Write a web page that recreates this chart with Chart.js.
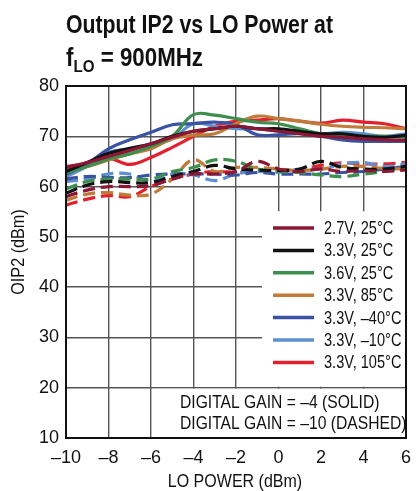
<!DOCTYPE html>
<html><head><meta charset="utf-8">
<script src="https://cdn.jsdelivr.net/npm/chart.js@4/dist/chart.umd.min.js"></script>
<style>
html,body{margin:0;padding:0;background:#fff;}
#wrap{position:relative;width:420px;height:491px;}
canvas{position:absolute;left:0;top:0;}
.t{position:absolute;left:66px;font-family:"Liberation Sans",Arial,sans-serif;font-weight:bold;font-size:25px;color:#111;line-height:1;white-space:nowrap;transform-origin:0 0;}
.t sub{font-size:17px;vertical-align:-6px;line-height:0;}
</style></head><body>
<div id="wrap">
<canvas id="c" width="420" height="491"></canvas>
<div class="t" id="t1" style="top:12px">Output IP2 vs LO Power at</div>
<div class="t" id="t2" style="top:45px">f<sub>LO</sub> = 900MHz</div>
</div>
<script>
const loPower = [-10,-9,-8,-7,-6,-5,-4,-3,-2,-1,0,1,2,3,4,5,6];
const seriesNames = ["2.7V, 25°C","3.3V, 25°C","3.6V, 25°C","3.3V, 85°C","3.3V, –40°C","3.3V, –10°C","3.3V, 105°C"];
const seriesColors = ["#8b1735","#111111","#3d8f4e","#c17b39","#3a52a2","#5d8fd1","#e3202e"];
// Digital gain = -4 (solid)
const solid27_25  = [63.8,64.8,66.0,67.2,68.5,69.8,71.0,71.5,72.0,71.5,71.0,70.5,70.0,69.8,69.5,69.3,69.2];
const solid33_25  = [63.0,64.8,66.6,67.6,68.5,70.0,71.0,71.5,72.0,71.5,71.5,71.0,70.5,70.5,70.0,69.8,70.2];
const solid36_25  = [62.8,64.0,65.5,66.5,68.0,70.0,74.3,74.2,73.5,72.8,72.5,71.5,70.5,70.2,70.0,70.0,69.8];
const solid33_85  = [63.3,64.0,65.3,66.5,67.5,69.5,70.2,70.5,72.5,74.0,73.5,73.0,72.4,72.0,71.8,71.7,71.5];
const solid33_m40 = [62.5,64.5,67.5,69.3,70.8,72.3,72.5,72.8,72.3,70.3,70.3,70.5,70.0,69.3,69.0,69.0,69.0];
const solid33_m10 = [62.0,64.0,66.8,67.5,68.3,69.5,72.5,72.0,71.5,71.5,71.0,70.8,70.5,70.8,70.5,70.0,70.5];
const solid33_105 = [64.0,64.5,65.6,64.4,65.8,67.8,70.0,72.0,73.0,73.2,73.5,73.0,72.6,73.2,72.8,72.5,71.5];
// Digital gain = -10 (dashed)
const dash27_25  = [58.0,59.3,60.0,60.0,60.2,61.5,62.5,62.5,63.0,65.0,63.5,63.0,63.5,63.0,63.2,63.0,63.3];
const dash33_25  = [58.7,60.3,61.0,60.8,60.8,62.0,63.0,64.2,63.5,63.3,63.2,63.5,65.0,63.8,63.5,63.5,64.0];
const dash36_25  = [59.5,61.0,61.5,61.5,61.5,63.0,63.8,65.3,65.0,63.5,63.0,62.8,62.3,62.0,62.5,63.0,63.8];
const dash33_85  = [57.3,58.5,58.8,58.3,58.5,61.5,65.3,63.0,63.8,63.8,63.5,63.2,63.5,64.0,64.0,63.6,63.5];
const dash33_m40 = [61.5,62.0,61.8,61.8,62.3,62.5,62.5,62.5,62.3,62.8,62.5,62.5,62.5,62.8,63.0,63.5,64.0];
const dash33_m10 = [61.0,61.5,62.5,62.5,61.0,62.5,62.3,61.2,62.5,63.0,62.8,63.5,63.5,64.5,64.8,64.0,64.5];
const dash33_105 = [56.3,57.5,58.2,58.0,60.0,61.5,62.5,63.0,62.8,63.0,63.0,63.3,64.2,64.7,64.5,64.5,64.8];
const xTicks = [-10,-8,-6,-4,-2,0,2,4,6];
const yTicks = [10,20,30,40,50,60,70,80];
const noteLines = ["DIGITAL GAIN = –4 (SOLID)","DIGITAL GAIN = –10 (DASHED)"];
const xTitle = "LO POWER (dBm)";
const yTitle = "OIP2 (dBm)";

// fit title lines to reference widths (condensed face)
[["t1",267],["t2",137]].forEach(([id,w])=>{
  const el=document.getElementById(id);
  el.style.transform='scaleX('+(w/el.getBoundingClientRect().width)+')';
});

const solids = [solid27_25,solid33_25,solid36_25,solid33_85,solid33_m40,solid33_m10,solid33_105];
const dashes = [dash27_25,dash33_25,dash36_25,dash33_85,dash33_m40,dash33_m10,dash33_105];
const FONT = '"Liberation Sans",Arial,sans-serif';
const pts = arr => arr.map((v,i)=>({x:loPower[i],y:v}));
const datasets = [];
dashes.forEach((d,i)=>datasets.push({label:seriesNames[i]+' dashed',data:pts(d),borderColor:seriesColors[i],borderDash:[12,6]}));
solids.forEach((d,i)=>datasets.push({label:seriesNames[i],data:pts(d),borderColor:seriesColors[i]}));
datasets.forEach(ds=>{ds.borderWidth=3.2;ds.pointRadius=0;ds.tension=0.4;ds.fill=false;});

function condText(ctx,s,x,y,sx,align){
  ctx.save();
  ctx.translate(x,y); ctx.scale(sx,1);
  ctx.textAlign=align||'left';
  ctx.fillText(s,0,0);
  ctx.restore();
}

const overlay = {
  id:'overlay',
  beforeDatasetsDraw(chart){
    const ctx=chart.ctx, xs=chart.scales.x, ys=chart.scales.y;
    ctx.save();
    ctx.fillStyle='#fff';
    ctx.fillRect(262, ys.getPixelForValue(55.1), 148, ys.getPixelForValue(20.2)-ys.getPixelForValue(55.1));
    const t=ys.getPixelForValue(20)+1;
    ctx.fillRect(xs.getPixelForValue(-6)+1.5, t, xs.getPixelForValue(6)-xs.getPixelForValue(-6)-2.5, ys.getPixelForValue(10)-t-1);
    ctx.restore();
  },
  afterDraw(chart){
    const ctx=chart.ctx, a=chart.chartArea;
    ctx.save();
    ctx.strokeStyle='#111'; ctx.lineWidth=2;
    ctx.strokeRect(a.left,a.top,a.right-a.left,a.bottom-a.top);
    ctx.font='18px '+FONT; ctx.fillStyle='#111'; ctx.textBaseline='middle';
    seriesNames.forEach((n,i)=>{
      const y=228+i*22.4;
      ctx.strokeStyle=seriesColors[i]; ctx.lineWidth=3.5;
      ctx.beginPath(); ctx.moveTo(273,y); ctx.lineTo(314,y); ctx.stroke();
      condText(ctx,n,324,y+1,0.81);
    });
    noteLines.forEach((s,i)=>condText(ctx,s,180,403+i*21,0.87));
    condText(ctx,xTitle,(a.left+a.right)/2-1,482,0.89,'center');
    ctx.save(); ctx.translate(19,252); ctx.rotate(-Math.PI/2);
    condText(ctx,yTitle,0,0,0.9,'center');
    ctx.restore();
    ctx.restore();
  }
};

new Chart(document.getElementById('c'),{
  type:'line',
  data:{datasets},
  options:{
    responsive:false, animation:false, devicePixelRatio:1,
    layout:{padding:{top:86,right:3,left:0,bottom:0}},
    plugins:{legend:{display:false},tooltip:{enabled:false},title:{display:false}},
    scales:{
      x:{type:'linear',min:-10,max:6,
        afterBuildTicks(s){s.ticks=xTicks.map(v=>({value:v}));},
        afterFit(s){s.height=53;},
        ticks:{color:'#111',font:{size:18,family:FONT},padding:9,callback:v=>String(v).replace('-','–'),maxRotation:0},
        grid:{color:'#555',lineWidth:1.4,drawTicks:false},
        border:{color:'#111',width:2}
      },
      y:{min:10,max:80,
        afterBuildTicks(s){s.ticks=yTicks.map(v=>({value:v}));},
        afterFit(s){s.width=66;},
        ticks:{color:'#111',font:{size:18,family:FONT},padding:7},
        grid:{color:'#555',lineWidth:1.4,drawTicks:false},
        border:{color:'#111',width:2}
      }
    }
  },
  plugins:[overlay]
});
</script>
</body></html>
